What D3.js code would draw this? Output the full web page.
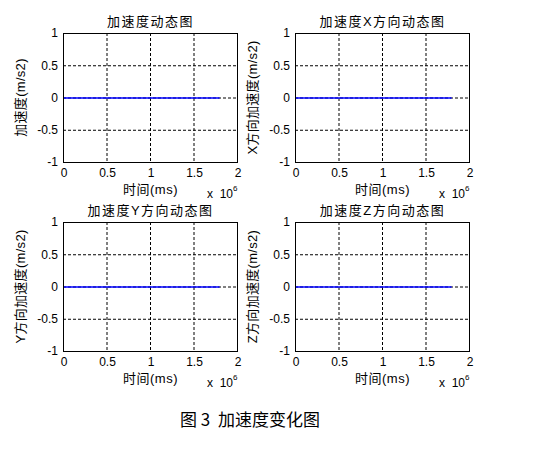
<!DOCTYPE html>
<html><head><meta charset="utf-8">
<script src="https://cdn.jsdelivr.net/npm/d3@7/dist/d3.min.js"></script>
<style>body{margin:0;background:#fff}svg{display:block}text{white-space:pre}</style>
</head><body>
<svg id="c" width="535" height="468"></svg>
<script>
const titles = ["加速度动态图","加速度X方向动态图","加速度Y方向动态图","加速度Z方向动态图"];
const yLabels = ["加速度(m/s2)","X方向加速度(m/s2)","Y方向加速度(m/s2)","Z方向加速度(m/s2)"];
const xLabel = "时间(ms)";
const xTicks = [0, 0.5e6, 1e6, 1.5e6, 2e6];
const xTickLabels = ["0","0.5","1","1.5","2"];
const yTicks = [-1, -0.5, 0, 0.5, 1];
const yTickLabels = ["-1","-0.5","0","0.5","1"];
const times = [0, 1.8e6];
const accAll = [0, 0];
const accX = [0, 0];
const accY = [0, 0];
const accZ = [0, 0];
const seriesList = [accAll, accX, accY, accZ];
const caption = "图 3  加速度变化图";

const svg = d3.select("#c");
const font = "Arial, 'Liberation Sans', 'Noto Sans CJK SC', sans-serif";
const panels = [
  {x:63, y:33}, {x:295, y:33}, {x:63, y:222}, {x:295, y:222}
];
const W = 174, H = 129;

panels.forEach((p, i) => {
  const g = svg.append("g").attr("transform", `translate(${p.x},${p.y})`);
  const x = d3.scaleLinear().domain([0, 2e6]).range([0, W]);
  const y = d3.scaleLinear().domain([-1, 1]).range([H, 0]);
  // grid
  g.selectAll(".vg").data(xTicks.slice(1, -1)).enter().append("line")
    .attr("x1", d => x(d)+0.5).attr("x2", d => x(d)+0.5).attr("y1", 0).attr("y2", H)
    .attr("stroke", "#000").attr("stroke-dasharray", "3,2").attr("stroke-width", 1);
  g.selectAll(".hg").data(yTicks.slice(1, -1)).enter().append("line")
    .attr("y1", d => y(d)+0.5).attr("y2", d => y(d)+0.5).attr("x1", 0).attr("x2", W)
    .attr("stroke", "#000").attr("stroke-dasharray", "3,2").attr("stroke-width", 1);
  // data line
  const data = times.map((t, k) => [t, seriesList[i][k]]);
  g.append("path").datum(data)
    .attr("d", d3.line().x(d => x(d[0])).y(d => y(d[1])+0.5))
    .attr("fill", "none").attr("stroke", "#0000ff").attr("stroke-width", 1.3);
  // box
  g.append("rect").attr("x", 0.5).attr("y", 0.5).attr("width", W).attr("height", H)
    .attr("fill", "none").attr("stroke", "#000").attr("stroke-width", 1);
  // axes tick labels
  const xa = d3.axisBottom(x).tickValues(xTicks).tickFormat((d, k) => xTickLabels[k]).tickSize(0).tickPadding(6);
  const xg = g.append("g").attr("transform", `translate(0.5,${H})`).call(xa);
  xg.select(".domain").remove();
  xg.selectAll("text").attr("font-family", font).attr("font-size", 12).attr("fill", "#000");
  const ya = d3.axisLeft(y).tickValues(yTicks).tickFormat((d, k) => yTickLabels[k]).tickSize(0).tickPadding(5);
  const yg = g.append("g").call(ya);
  yg.select(".domain").remove();
  yg.selectAll("text").attr("font-family", font).attr("font-size", 12).attr("fill", "#000");
  // title
  g.append("text").attr("x", W/2 + 0.5).attr("y", -7).attr("text-anchor", "middle")
    .attr("font-family", font).attr("font-size", 13).attr("letter-spacing", 1.5).attr("fill", "#000").text(titles[i]);
  // xlabel
  g.append("text").attr("x", W/2 + 0.5).attr("y", H + 32).attr("text-anchor", "middle")
    .attr("font-family", font).attr("font-size", 13).attr("letter-spacing", 0.5).attr("fill", "#000").text(xLabel);
  // exponent
  const ex = g.append("text").attr("x", W - 30).attr("y", H + 36)
    .attr("font-family", font).attr("font-size", 12).attr("fill", "#000");
  ex.append("tspan").text("x  10");
  ex.append("tspan").attr("dy", -7).attr("font-size", 8).text("6");
  // ylabel
  g.append("text").attr("transform", `translate(-38,${H/2}) rotate(-90)`)
    .attr("text-anchor", "middle").attr("font-family", font).attr("font-size", 13).attr("letter-spacing", 0.3).attr("fill", "#000")
    .text(yLabels[i]);
});

svg.append("text").attr("x", 250).attr("y", 426).attr("text-anchor", "middle")
  .attr("font-family", "'Noto Sans CJK SC', sans-serif").attr("font-size", 17).attr("fill", "#000")
  .text(caption);
</script>
</body></html>
